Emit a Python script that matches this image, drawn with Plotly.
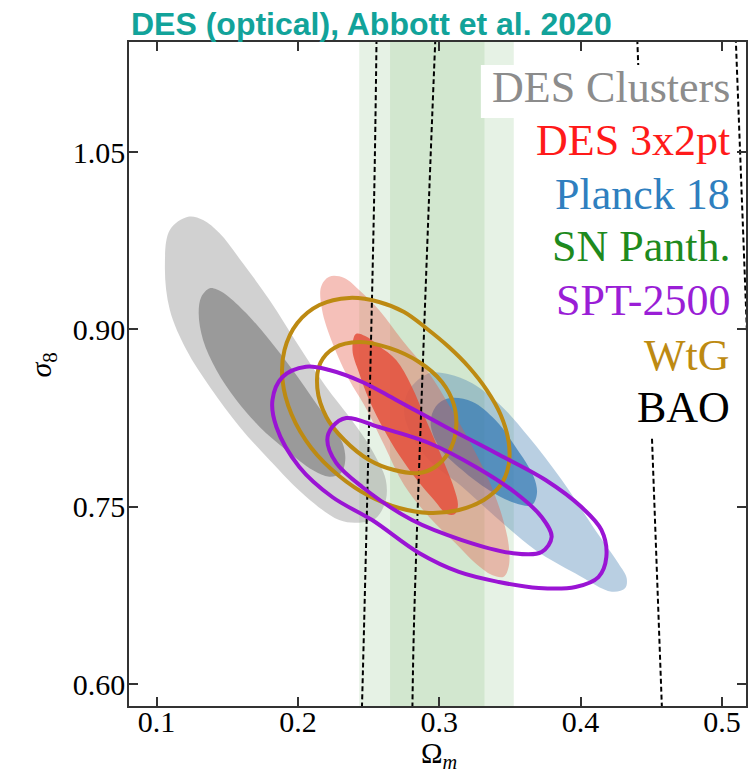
import plotly.graph_objects as go

# ---------------- data: (Omega_m, sigma_8) contour outlines ----------------
clusters_95_om = [0.1223, 0.1094, 0.1059, 0.1094, 0.1212, 0.1376, 0.1587, 0.1799, 0.2058, 0.2292,
                  0.2433, 0.2551, 0.2622, 0.2622, 0.2574, 0.2480, 0.2363, 0.2199, 0.2010, 0.1799,
                  0.1611, 0.1446, 0.1329]
clusters_95_s8 = [0.9953, 0.9841, 0.9530, 0.9164, 0.8826, 0.8515, 0.8177, 0.7895, 0.7585, 0.7387,
                  0.7365, 0.7402, 0.7557, 0.7726, 0.7867, 0.8064, 0.8261, 0.8515, 0.8854, 0.9249,
                  0.9559, 0.9813, 0.9925]
clusters_68_om = [0.1376, 0.1317, 0.1298, 0.1329, 0.1423, 0.1564, 0.1728, 0.1917, 0.2104, 0.2222,
                  0.2304, 0.2335, 0.2316, 0.2245, 0.2128, 0.1963, 0.1799, 0.1635, 0.1494, 0.1423]
clusters_68_s8 = [0.9348, 0.9277, 0.9136, 0.8910, 0.8656, 0.8403, 0.8177, 0.7980, 0.7810, 0.7754,
                  0.7783, 0.7895, 0.8036, 0.8177, 0.8375, 0.8656, 0.8910, 0.9136, 0.9291, 0.9339]

des3x2_95_om = [0.2222, 0.2328, 0.2433, 0.2574, 0.2737, 0.2927, 0.3068, 0.3209, 0.3350, 0.3442,
                0.3491, 0.3491, 0.3456, 0.3373, 0.3256, 0.3115, 0.2927, 0.2751, 0.2610, 0.2469,
                0.2363, 0.2245, 0.2171, 0.2164]
des3x2_95_s8 = [0.9446, 0.9435, 0.9333, 0.9164, 0.8910, 0.8631, 0.8360, 0.8064, 0.7726, 0.7430,
                0.7176, 0.6992, 0.6908, 0.6922, 0.7021, 0.7190, 0.7415, 0.7684, 0.8022, 0.8360,
                0.8572, 0.8882, 0.9164, 0.9361]
des3x2_68_om = [0.2410, 0.2476, 0.2574, 0.2695, 0.2800, 0.2906, 0.3012, 0.3104, 0.3132, 0.3111,
                0.3054, 0.2963, 0.2843, 0.2716, 0.2610, 0.2504, 0.2433, 0.2386]
des3x2_68_s8 = [0.8961, 0.8944, 0.8859, 0.8741, 0.8530, 0.8233, 0.7937, 0.7658, 0.7514, 0.7438,
                0.7438, 0.7557, 0.7726, 0.7937, 0.8149, 0.8403, 0.8631, 0.8826]

planck_95_om = [0.2927, 0.2786, 0.2751, 0.2786, 0.2927, 0.3162, 0.3397, 0.3679, 0.3961, 0.4220,
                0.4314, 0.4326, 0.4267, 0.4103, 0.3867, 0.3632, 0.3444, 0.3233, 0.3068]
planck_95_s8 = [0.8629, 0.8487, 0.8318, 0.8149, 0.7895, 0.7669, 0.7415, 0.7134, 0.6937, 0.6781,
                0.6810, 0.6894, 0.7021, 0.7303, 0.7726, 0.8092, 0.8346, 0.8544, 0.8620]
planck_68_om = [0.3068, 0.2974, 0.2939, 0.2998, 0.3162, 0.3350, 0.3539, 0.3656, 0.3691, 0.3668,
                0.3539, 0.3397, 0.3233]
planck_68_s8 = [0.8417, 0.8346, 0.8206, 0.8008, 0.7810, 0.7641, 0.7529, 0.7514, 0.7613, 0.7754,
                0.8008, 0.8233, 0.8388]

wtg_95_om = [0.2363, 0.2574, 0.2751, 0.2906, 0.3068, 0.3209, 0.3336, 0.3435, 0.3491, 0.3491,
             0.3435, 0.3315, 0.3139, 0.2927, 0.2716, 0.2504, 0.2292, 0.2095, 0.1954, 0.1891,
             0.1905, 0.1996, 0.2152]
wtg_95_s8 = [0.9266, 0.9232, 0.9147, 0.9012, 0.8851, 0.8682, 0.8487, 0.8276, 0.8047, 0.7853,
             0.7684, 0.7557, 0.7472, 0.7447, 0.7489, 0.7590, 0.7760, 0.7997, 0.8284, 0.8572,
             0.8826, 0.9054, 0.9206]
wtg_68_om = [0.2433, 0.2645, 0.2857, 0.3019, 0.3104, 0.3118, 0.3068, 0.2970, 0.2857, 0.2681,
             0.2504, 0.2328, 0.2201, 0.2137, 0.2159, 0.2257]
wtg_68_s8 = [0.8893, 0.8843, 0.8724, 0.8555, 0.8360, 0.8149, 0.7963, 0.7836, 0.7785, 0.7810,
             0.7895, 0.8064, 0.8259, 0.8504, 0.8716, 0.8843]

spt_95_om = [0.2058, 0.2222, 0.2455, 0.2695, 0.3047, 0.3400, 0.3752, 0.4006, 0.4147, 0.4182,
             0.4126, 0.3964, 0.3703, 0.3421, 0.3139, 0.2857, 0.2525, 0.2243, 0.2010, 0.1848,
             0.1820, 0.1891]
spt_95_s8 = [0.8684, 0.8656, 0.8555, 0.8403, 0.8174, 0.7954, 0.7726, 0.7497, 0.7303, 0.7074,
             0.6905, 0.6821, 0.6812, 0.6863, 0.6948, 0.7108, 0.7387, 0.7582, 0.7836, 0.8174,
             0.8403, 0.8597]
spt_68_om = [0.2342, 0.2574, 0.2927, 0.3259, 0.3541, 0.3724, 0.3795, 0.3724, 0.3513, 0.3160,
             0.2807, 0.2455, 0.2271, 0.2208, 0.2243]
spt_68_s8 = [0.8250, 0.8174, 0.8039, 0.7836, 0.7616, 0.7413, 0.7244, 0.7117, 0.7108, 0.7218,
             0.7387, 0.7667, 0.7870, 0.8064, 0.8174]

# BAO contour edges (near-vertical dashed curves)
bao_edges_om = [
    [0.2453, 0.2469, 0.2539, 0.2556],
    [0.2810, 0.2822, 0.2927, 0.2972],
    [0.4575, 0.4401],
    [0.5230, 0.5098],
]
bao_edges_s8 = [
    [0.580, 0.654, 1.0095, 1.145],
    [0.580, 0.654, 1.0095, 1.145],
    [0.580, 1.145],
    [0.730, 1.145],
]

# SN Pantheon Omega_m bands
sn_band_95 = [0.2434, 0.3527]
sn_band_68 = [0.2652, 0.3320]

x_ticks = [0.1, 0.2, 0.3, 0.4, 0.5]
x_ticklabels = ["0.1", "0.2", "0.3", "0.4", "0.5"]
y_ticks = [0.60, 0.75, 0.90, 1.05]
y_ticklabels = ["0.60", "0.75", "0.90", "1.05"]

legend_labels = ["DES Clusters", "DES 3x2pt", "Planck 18", "SN Panth.", "SPT-2500", "WtG", "BAO"]
legend_colors = ["#8c8c8c", "#ff1a1a", "#2f7fbf", "#1e8a1e", "#9a1ed6", "#bd8a12", "#000000"]

SERIF = "Liberation Serif, Times New Roman, serif"


def closed(xs, ys):
    return xs + xs[:1], ys + ys[:1]


fig = go.Figure()


def add_fill(xs, ys, color):
    cx, cy = closed(xs, ys)
    fig.add_trace(go.Scatter(x=cx, y=cy, mode="lines", fill="toself", fillcolor=color,
                             line=dict(width=0, shape="spline", smoothing=1.0),
                             hoverinfo="skip"))


def add_outline(xs, ys, color):
    cx, cy = closed(xs, ys)
    fig.add_trace(go.Scatter(x=cx, y=cy, mode="lines",
                             line=dict(width=4, color=color, shape="spline", smoothing=1.0),
                             hoverinfo="skip"))


# filled contours
add_fill(clusters_95_om, clusters_95_s8, "rgba(140,140,140,0.40)")
add_fill(clusters_68_om, clusters_68_s8, "rgba(110,110,110,0.55)")
add_fill(planck_95_om, planck_95_s8, "rgba(70,130,180,0.38)")
add_fill(planck_68_om, planck_68_s8, "rgba(50,120,180,0.70)")
add_fill(des3x2_95_om, des3x2_95_s8, "rgba(228,90,70,0.38)")
add_fill(des3x2_68_om, des3x2_68_s8, "rgba(228,80,60,0.85)")

# BAO dashed edges
for bx, by in zip(bao_edges_om, bao_edges_s8):
    fig.add_trace(go.Scatter(x=bx, y=by, mode="lines",
                             line=dict(color="black", width=2, dash="5px,3px", shape="spline"),
                             hoverinfo="skip"))

# line contours
add_outline(wtg_95_om, wtg_95_s8, "#bd8a12")
add_outline(wtg_68_om, wtg_68_s8, "#bd8a12")
add_outline(spt_95_om, spt_95_s8, "#9a14d4")
add_outline(spt_68_om, spt_68_s8, "#9a14d4")

# SN bands behind everything
fig.add_vrect(x0=sn_band_95[0], x1=sn_band_95[1], fillcolor="#e6f2e5", line_width=0, layer="below")
fig.add_vrect(x0=sn_band_68[0], x1=sn_band_68[1], fillcolor="#d2e7cf", line_width=0, layer="below")

# legend frame (white) over the plot
fig.add_shape(type="rect", xref="paper", yref="paper", x0=0.5703, x1=0.9822, y0=0.8855, y1=0.9654,
              fillcolor="white", line_width=0, layer="above")
fig.add_shape(type="rect", xref="paper", yref="paper", x0=0.7609, x1=0.9822, y0=0.4066, y1=0.9654,
              fillcolor="white", line_width=0, layer="above")

legend_y = [0.9315, 0.8524, 0.7696, 0.6917, 0.6114, 0.5286, 0.4488]
for lab, col, ly in zip(legend_labels, legend_colors, legend_y):
    fig.add_annotation(text=lab, xref="paper", yref="paper", x=0.9774, y=ly,
                       xanchor="right", yanchor="middle", showarrow=False,
                       font=dict(family=SERIF, size=44, color=col))

# title
fig.add_annotation(text="<b>DES (optical), Abbott et al. 2020</b>", xref="paper", yref="paper",
                   x=0.0, y=1.027, xanchor="left", yanchor="middle", showarrow=False,
                   font=dict(family="Liberation Sans, Arial, sans-serif", size=32, color="#12a39a"))

# axis titles
fig.add_annotation(text="Ω<sub><i>m</i></sub>", xref="paper", yref="paper", x=0.5024, y=-0.043,
                   xanchor="center", yanchor="top", showarrow=False,
                   font=dict(family=SERIF, size=29, color="black"))
fig.add_annotation(text="<i>σ</i><sub>8</sub>", xref="paper", yref="paper", x=-0.14, y=0.5136,
                   xanchor="center", yanchor="middle", showarrow=False, textangle=-90,
                   font=dict(family=SERIF, size=30, color="black"))

axis_common = dict(ticks="inside", ticklen=9, tickwidth=1.5, tickcolor="#333",
                   showline=True, linecolor="#333", linewidth=1.5, mirror="ticks",
                   showgrid=False, zeroline=False,
                   tickfont=dict(family=SERIF, size=30, color="black"))

fig.update_xaxes(range=[0.0805, 0.5170], tickvals=x_ticks, ticktext=x_ticklabels,
                 ticklabelstandoff=-12, **axis_common)
fig.update_yaxes(range=[0.5814, 1.1431], tickvals=y_ticks, ticktext=y_ticklabels,
                 ticklabelstandoff=-4, **axis_common)

fig.update_layout(width=750, height=772, margin=dict(l=129, r=2, t=42, b=66),
                  plot_bgcolor="white", paper_bgcolor="white", showlegend=False)

fig.write_html("out.html")
